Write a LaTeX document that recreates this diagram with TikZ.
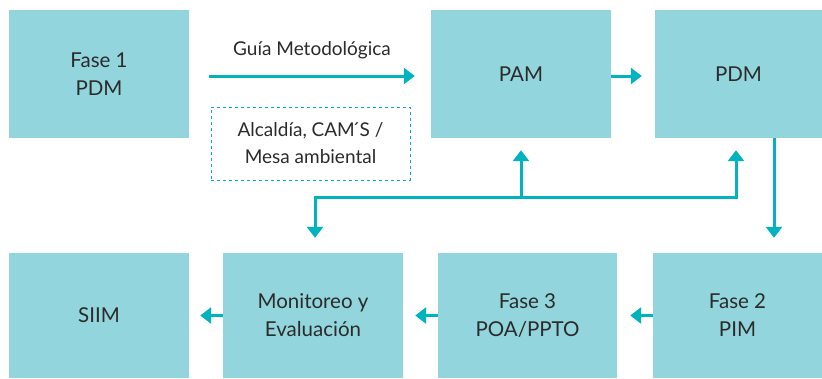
\documentclass[tikz,border=0pt]{standalone}
\usepackage{fontspec}
\setmainfont{Lato}
\usetikzlibrary{arrows.meta,positioning}
\definecolor{boxfill}{HTML}{92D5DC}
\definecolor{arrowcol}{HTML}{00B3BE}
\definecolor{textcol}{HTML}{2B2B2B}
\tikzset{
  stage/.style={fill=boxfill, inner sep=0pt, align=center, text=textcol,
    font=\fontsize{20.5}{28}\selectfont, minimum height=128pt},
  note/.style={draw=arrowcol, dashed, line width=0.9pt, inner sep=0pt, align=center,
    text=textcol, font=\fontsize{19}{27}\selectfont,
    minimum width=199pt, minimum height=73pt},
  arr/.style={draw=arrowcol, line width=3pt,
    -{Triangle[width=16pt,length=11pt]}},
}
\begin{document}
\begin{tikzpicture}
    [
      x=1pt, y=-1pt,
    ]
    \useasboundingbox (0,0) rectangle (822,378);

    % top row
    \node [stage, minimum width=180pt] (fase1) at (99,74)    {Fase 1\\PDM};
    \node [stage, minimum width=180pt] (pam)   at (521,74)   {PAM};
    \node [stage, minimum width=167pt] (pdm)   at (738.5,74) {PDM};
    \node [note] (actors) at (310.5,143.5) {Alcaldía, CAM\'{}S /\\Mesa ambiental};

    % bottom row
    \node [stage, minimum width=180pt, minimum height=125pt] (siim)  at (99,315.5)    {SIIM};
    \node [stage, minimum width=180pt, minimum height=125pt] (monit) at (313,315.5)   {Monitoreo y\\Evaluación};
    \node [stage, minimum width=179pt, minimum height=125pt] (fase3) at (527.5,315.5) {Fase 3\\POA/PPTO};
    \node [stage, minimum width=169pt, minimum height=125pt] (fase2) at (737.5,315.5) {Fase 2\\PIM};

    % top arrows
    \draw [arr] ([xshift=20pt,yshift=-2pt]fase1.east) -- ([xshift=-16pt,yshift=-2pt]pam.west)
      node [midway, above=12pt, text=textcol, font=\fontsize{19}{22}\selectfont] {Guía Metodológica};
    \draw [arr, shorten >=13pt] ([yshift=-2pt]pam.east) -- ([yshift=-2pt]pdm.west);
    \draw [arr, shorten >=15pt] ([xshift=35.5pt]pdm.south) -- ([xshift=35.5pt]pdm.south |- fase2.north);

    % feedback
    \coordinate (split) at (521,197);
    \draw [arr, shorten >=12pt] (split) -- (pam.south);
    \draw [arr, shorten >=12pt] (split) -| ([xshift=-2.5pt]pdm.south);
    \draw [arr, shorten >=15pt] (split) -| ([xshift=2pt]monit.north);

    % bottom arrows
    \draw [arr, shorten >=13pt] (fase2.west) -- (fase3.east);
    \draw [arr, shorten >=12pt] (fase3.west) -- (monit.east);
    \draw [arr, shorten >=11pt] (monit.west) -- (siim.east);
  \end{tikzpicture}
\end{document}
